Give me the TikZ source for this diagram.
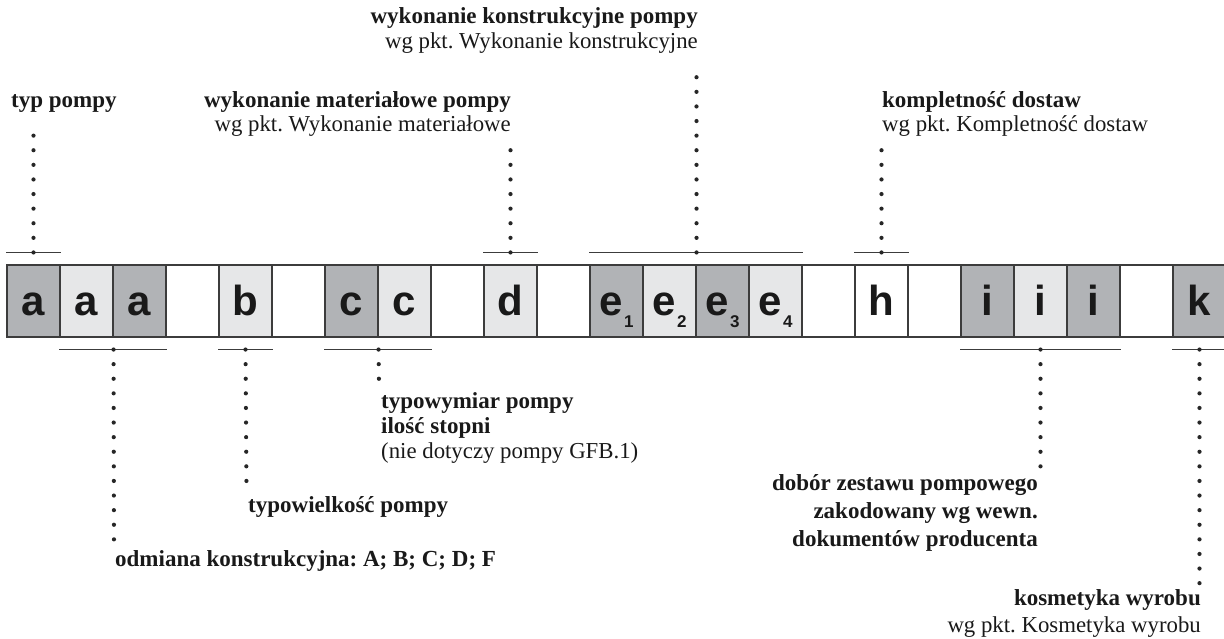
\documentclass[tikz,border=0pt]{standalone}
\usepackage{fontspec}
\setmainfont{Liberation Serif}
\setsansfont{Liberation Sans}
\usetikzlibrary{calc,positioning}
\definecolor{darkcell}{RGB}{177,179,182}
\definecolor{lightcell}{RGB}{230,231,232}
\definecolor{rulegray}{RGB}{60,60,60}
\newcommand{\cellsub}[1]{\hspace{1.5pt}\raisebox{-13pt}{\fontsize{17}{17}\selectfont #1}}
\tikzset{
  cell/.style={draw=rulegray,line width=1.1pt,minimum width=53pt,minimum height=72pt,
    inner sep=0pt,text height=28pt,text depth=0pt,text=black!90,
    font=\sffamily\bfseries\fontsize{42}{42}\selectfont},
  bracket/.style={draw=rulegray,line width=1.3pt},
  leader/.style={line width=4.2pt,line cap=round,dash pattern=on 0pt off 14.6pt,color=black!85},
  head/.style={inner sep=0pt,text=black!90,font=\bfseries\fontsize{23}{26}\selectfont},
  note/.style={inner sep=0pt,text=black!90,font=\fontsize{22.8}{26}\selectfont}
}

\begin{document}
\frenchspacing
\begin{tikzpicture}[x=1pt,y=-1pt]
\useasboundingbox (0,0) rectangle (1224,639);
% row of code cells
\foreach \t/\c [count=\i from 0] in {a/darkcell,a/lightcell,a/darkcell,{}/white,
  b/lightcell,{}/white,c/darkcell,c/lightcell,{}/white,d/lightcell,{}/white,
  {e\cellsub{1}}/darkcell,{e\cellsub{2}}/lightcell,{e\cellsub{3}}/darkcell,{e\cellsub{4}}/lightcell,
  {}/white,h/white,{}/white,i/darkcell,i/lightcell,i/darkcell,{}/white,k/darkcell}
  \node[cell,fill=\c] (c\i) at ({33.5+53*\i},301) {\t};

% brackets above the row
\draw[bracket] ([yshift=12pt]c0.north west) -- ([yshift=12pt]c0.north east);
\draw[bracket] ([yshift=12pt]c9.north west) -- ([yshift=12pt]c9.north east);
\draw[bracket] ([yshift=12pt]c11.north west) -- ([yshift=12pt]c14.north east);
\draw[bracket] ([yshift=12pt]c16.north west) -- ([yshift=12pt]c16.north east);
% brackets below the row
\draw[bracket] ([yshift=-12pt]c1.south west) -- ([yshift=-12pt]c2.south east);
\draw[bracket] ([yshift=-12pt]c4.south west) -- ([yshift=-12pt]c4.south east);
\draw[bracket] ([yshift=-12pt]c6.south west) -- ([yshift=-12pt]c7.south east);
\draw[bracket] ([yshift=-12pt]c18.south west) -- ([yshift=-12pt]c20.south east);
\draw[bracket] ([yshift=-12pt]c22.south west) -- ([yshift=-12pt]c22.south east);

% ends of the leaders
\coordinate (typ) at (33.5,135);
\coordinate (mat) at (510.5,150);
\coordinate (kon) at (696.5,68);
\coordinate (kom) at (881.5,150);
\coordinate (odm) at (114,553);
\coordinate (wlk) at (246.5,488);
\coordinate (wym) at (379,385);
\coordinate (dob) at (1040.5,474);
\coordinate (kos) at (1199.5,584);

\draw[leader] ([yshift=12pt]c0.north) -- (typ);
\draw[leader] ([yshift=12pt]c9.north) -- (mat);
\draw[leader] ([yshift=12pt]c12.north east) -- (kon);
\draw[leader] ([yshift=12pt]c16.north) -- (kom);
\draw[leader] ([yshift=-12pt]c1.south east) -- (odm);
\draw[leader] ([yshift=-12pt]c4.south) -- (wlk);
\draw[leader] ([yshift=-12pt]c6.south east) -- (wym);
\draw[leader] ([yshift=-12pt]c19.south) -- (dob);
\draw[leader] ([yshift=-12pt]c22.south) -- (kos);

% labels above
\node[head,anchor=base west] (typlbl) at (11,108) {typ pompy};
\node[head,anchor=base east] (matlbl) at (511,108) {wykonanie materiałowe pompy};
\node[note,anchor=base east] (matref) at (511,132) {wg pkt. Wykonanie materiałowe};
\node[head,anchor=base east] (konlbl) at (698,24) {wykonanie konstrukcyjne pompy};
\node[note,anchor=base east] (konref) at (698,49) {wg pkt. Wykonanie konstrukcyjne};
\node[head,anchor=base west] (komlbl) at (882,108) {kompletność dostaw};
\node[note,anchor=base west] (komref) at (882,132) {wg pkt. Kompletność dostaw};

% labels below
\node[head,anchor=base west] (odmlbl) at (115,566) {odmiana konstrukcyjna: A; B; C; D; F};
\node[head,anchor=base west] (wlklbl) at (248,512) {typowielkość pompy};
\node[head,anchor=base west] (wymlbl) at (381,408) {typowymiar pompy};
\node[head,anchor=base west] (stplbl) at (381,433) {ilość stopni};
\node[note,anchor=base west] (stpref) at (381,458) {(nie dotyczy pompy GFB.1)};
\node[head,anchor=base east] (doblbl) at (1038,490) {dobór zestawu pompowego};
\node[head,anchor=base east] (dob2) at (1038,518) {zakodowany wg wewn.};
\node[head,anchor=base east] (dob3) at (1038,546) {dokumentów producenta};
\node[head,anchor=base east] (koslbl) at (1201,605) {kosmetyka wyrobu};
\node[note,anchor=base east] (kosref) at (1201,632) {wg pkt. Kosmetyka wyrobu};
\end{tikzpicture}
\end{document}
